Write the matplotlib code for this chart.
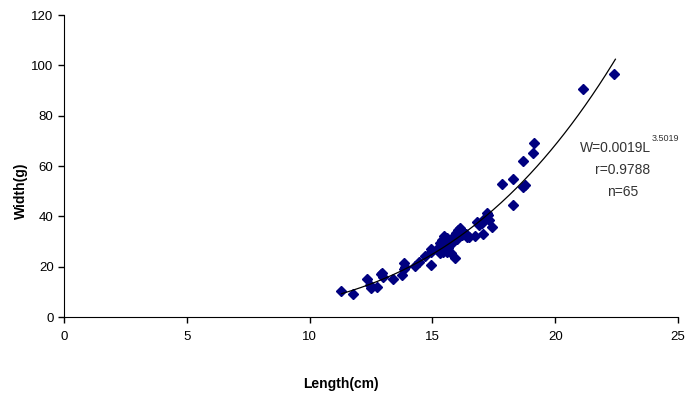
"""Length-weight scatter with power fit."""
# %% Imports
import numpy as np
from matplotlib import pyplot as plt

plt.rcParams["font.family"] = ["Liberation Sans", "DejaVu Sans"]

# %% Data
length_cm = [
    11.26, 11.75, 12.32, 12.49, 12.76, 12.95, 12.97, 13.41, 13.77, 13.84,
    13.87, 14.30, 14.44, 14.69, 14.93, 14.93, 15.31, 15.38, 15.47, 15.31,
    15.58, 15.74, 15.92, 15.85, 15.92, 16.12, 16.26, 16.40, 16.73, 16.80,
    17.01, 17.07, 17.21, 17.32, 17.41, 17.82, 18.30, 18.30, 18.67, 18.78,
    18.70, 19.15, 19.08, 21.13, 22.39,
    12.45, 12.90, 13.85, 14.95, 15.20, 15.35, 15.45, 15.50, 15.60, 15.65,
    15.80, 15.95, 16.00, 16.05, 16.20, 16.35, 16.50, 16.90, 17.10, 17.25,
]
weight_g = [
    10.4, 9.0, 15.0, 11.7, 12.1, 17.6, 16.0, 15.0, 16.5, 21.3,
    20.0, 20.3, 21.9, 24.2, 26.9, 20.5, 29.3, 30.6, 32.2, 25.3,
    25.8, 25.3, 23.3, 30.9, 32.6, 35.2, 33.9, 31.7, 32.2, 37.9,
    37.2, 33.0, 41.5, 38.5, 35.9, 52.8, 54.7, 44.5, 51.8, 52.4,
    62.2, 69.3, 65.0, 90.5, 96.5,
    12.8, 17.0, 19.0, 25.8, 27.0, 28.0, 26.0, 30.0, 31.5, 27.5,
    29.5, 33.5, 31.0, 34.5, 32.5, 33.0, 32.0, 36.5, 39.0, 40.5,
]

# fitted power law W = a * L^b
fit_a = 0.0019
fit_b = 3.5019
fit_range = [11.3, 22.45]

x_ticks = [0, 5, 10, 15, 20, 25]
y_ticks = [0, 20, 40, 60, 80, 100, 120]

# %% Plot
fig = plt.figure(figsize=(6.88, 3.98), dpi=100)
ax = fig.add_axes([0.093, 0.2035, 0.8925, 0.7585])

ax.plot(length_cm, weight_g, linestyle="None", marker="D", markersize=5,
        color="#000080", markeredgecolor="#000080")

L = np.linspace(fit_range[0], fit_range[1], 200)
ax.plot(L, fit_a * L ** fit_b, color="black", linewidth=0.9)

ax.set_xlim(0, 25)
ax.set_ylim(0, 120)
ax.set_xticks(x_ticks)
ax.set_yticks(y_ticks)
ax.tick_params(direction="out", length=4, width=1, labelsize=9.5,
               colors="black")
ax.tick_params(axis="x", pad=6)
ax.spines["top"].set_visible(False)
ax.spines["right"].set_visible(False)

fig.text(0.495, 0.035, "Length(cm)", fontsize=10, fontweight="bold",
         ha="center", va="center")
fig.text(0.03, 0.52, "Width(g)", fontsize=10, fontweight="bold",
         ha="center", va="center", rotation=90)

# equation box
fig.text(0.843, 0.627, "W=0.0019L", fontsize=10, color="#333333",
         ha="left", va="center")
fig.text(0.947, 0.652, "3.5019", fontsize=6.5, color="#333333",
         ha="left", va="center")
fig.text(0.905, 0.573, "r=0.9788", fontsize=10, color="#333333",
         ha="center", va="center")
fig.text(0.905, 0.518, "n=65", fontsize=10, color="#333333",
         ha="center", va="center")

fig.savefig("out.png", dpi=100)
